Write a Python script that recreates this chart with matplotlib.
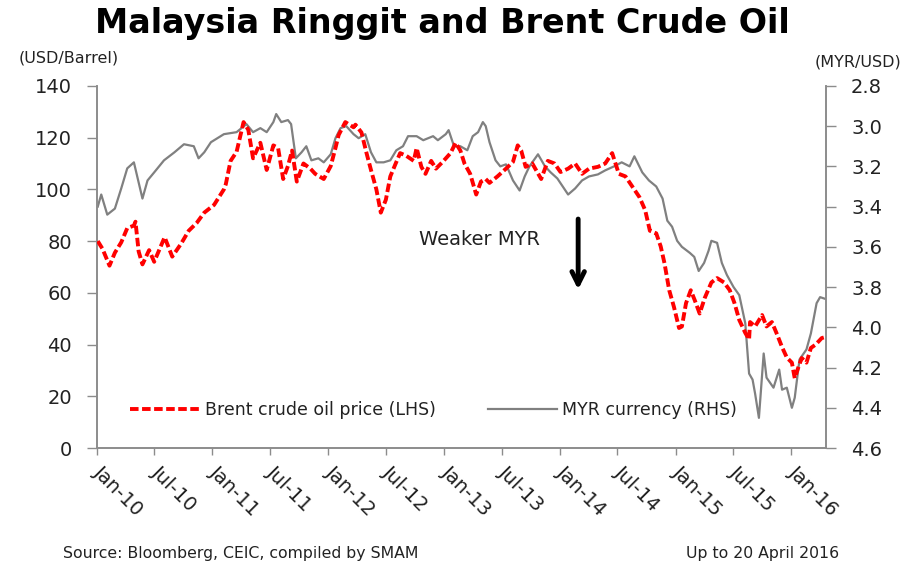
import pandas as pd
import matplotlib
matplotlib.use('Agg')
import matplotlib.pyplot as plt
import matplotlib.dates as mdates
from matplotlib.lines import Line2D

# Brent crude oil price, USD/barrel
brent_dates = [
    '2010-01-04', '2010-01-19', '2010-02-10', '2010-02-27', '2010-03-19', '2010-04-07',
    '2010-04-28', '2010-05-03', '2010-05-13', '2010-05-25', '2010-06-15', '2010-07-01',
    '2010-08-03', '2010-08-27', '2010-09-24', '2010-10-18', '2010-11-12', '2010-12-06',
    '2011-01-06', '2011-02-06', '2011-02-12', '2011-02-27', '2011-03-18', '2011-04-09',
    '2011-04-24', '2011-05-09', '2011-06-01', '2011-06-21', '2011-07-12', '2011-07-27',
    '2011-08-12', '2011-08-27', '2011-09-09', '2011-09-24', '2011-10-15', '2011-11-06',
    '2011-11-21', '2011-12-18', '2012-01-09', '2012-01-24', '2012-02-03', '2012-02-24',
    '2012-03-21', '2012-03-27', '2012-04-15', '2012-05-01', '2012-05-15', '2012-06-01',
    '2012-06-15', '2012-07-01', '2012-07-15', '2012-08-01', '2012-08-15', '2012-09-03',
    '2012-09-27', '2012-10-06', '2012-10-21', '2012-11-03', '2012-11-21', '2012-12-06',
    '2012-12-27', '2013-01-21', '2013-02-06', '2013-02-21', '2013-03-06', '2013-03-24',
    '2013-04-12', '2013-04-27', '2013-05-12', '2013-05-24', '2013-06-18', '2013-07-15',
    '2013-08-06', '2013-08-21', '2013-09-01', '2013-09-15', '2013-10-06', '2013-11-03',
    '2013-11-24', '2013-12-15', '2014-01-03', '2014-01-27', '2014-02-18', '2014-03-12',
    '2014-04-03', '2014-05-01', '2014-05-24', '2014-06-15', '2014-07-06', '2014-07-27',
    '2014-08-18', '2014-09-09', '2014-09-27', '2014-10-12', '2014-11-01', '2014-11-15',
    '2014-11-27', '2014-12-12', '2014-12-27', '2015-01-12', '2015-01-21', '2015-02-03',
    '2015-02-18', '2015-03-03', '2015-03-18', '2015-04-03', '2015-04-24', '2015-05-12',
    '2015-06-03', '2015-06-21', '2015-07-06', '2015-07-21', '2015-08-09', '2015-08-21',
    '2015-08-24', '2015-09-09', '2015-10-01', '2015-10-15', '2015-11-01', '2015-11-18',
    '2015-12-03', '2015-12-18', '2016-01-03', '2016-01-12', '2016-01-24', '2016-02-03',
    '2016-02-18', '2016-03-03', '2016-03-18', '2016-04-06', '2016-04-20',
]
brent_price = [
    80, 77, 70.5, 75.5, 79.5, 85,
    86, 87.5, 76, 71, 76.5, 72,
    81.5, 74, 79, 84, 87, 91,
    94, 100, 102, 111, 114.5, 126,
    123, 112, 118, 107.5, 117, 116,
    104, 109, 115, 103, 110, 108,
    106, 104, 109, 116, 121, 126,
    124, 125, 122, 114, 107.5, 100,
    91, 96, 105, 110, 114, 113,
    111, 116, 108.7, 106, 111, 108,
    110.6, 114, 118, 115, 110, 106,
    98, 103, 104, 102.5, 105, 108,
    110.6, 117, 115, 108.7, 110, 104,
    111, 110, 106.7, 108, 110, 106,
    108, 108.7, 110, 114, 106, 105,
    101, 97, 92, 84, 83, 78,
    71.5, 61, 54.5, 46.4, 47, 56,
    61, 57, 52, 58, 64, 65.7,
    64, 61, 56, 49.5, 44.5, 42,
    48.7, 47, 51.4, 47, 48.7, 43.7,
    39, 35, 33, 27, 31.4, 34.8,
    33, 38.7, 40, 42.5, 43,
]

# MYR per USD (right axis, inverted)
myr_dates = [
    '2010-01-04', '2010-01-15', '2010-02-03', '2010-02-27', '2010-03-19', '2010-04-07',
    '2010-04-28', '2010-05-13', '2010-05-25', '2010-06-10', '2010-07-01', '2010-08-01',
    '2010-09-03', '2010-10-03', '2010-11-03', '2010-11-18', '2010-12-06', '2010-12-27',
    '2011-02-06', '2011-03-18', '2011-04-18', '2011-05-09', '2011-06-01', '2011-06-21',
    '2011-07-12', '2011-07-21', '2011-08-06', '2011-08-27', '2011-09-06', '2011-09-21',
    '2011-10-09', '2011-10-24', '2011-11-09', '2011-12-01', '2011-12-18', '2012-01-09',
    '2012-01-24', '2012-02-09', '2012-02-27', '2012-03-21', '2012-04-06', '2012-04-27',
    '2012-05-15', '2012-06-01', '2012-06-24', '2012-07-15', '2012-08-03', '2012-08-24',
    '2012-09-09', '2012-10-06', '2012-10-27', '2012-11-27', '2012-12-12', '2013-01-06',
    '2013-01-15', '2013-02-01', '2013-02-21', '2013-03-15', '2013-04-01', '2013-04-18',
    '2013-05-03', '2013-05-12', '2013-05-24', '2013-06-12', '2013-06-27', '2013-07-15',
    '2013-08-06', '2013-08-27', '2013-09-12', '2013-09-27', '2013-10-24', '2013-11-15',
    '2013-12-03', '2013-12-24', '2014-01-27', '2014-02-18', '2014-03-12', '2014-04-03',
    '2014-05-01', '2014-05-24', '2014-06-21', '2014-07-15', '2014-08-09', '2014-08-24',
    '2014-09-18', '2014-10-09', '2014-11-01', '2014-11-21', '2014-12-06', '2014-12-21',
    '2015-01-06', '2015-01-21', '2015-02-15', '2015-03-01', '2015-03-15', '2015-04-01',
    '2015-04-15', '2015-04-24', '2015-05-12', '2015-05-27', '2015-06-12', '2015-07-03',
    '2015-07-21', '2015-08-09', '2015-08-21', '2015-09-01', '2015-09-09', '2015-09-21',
    '2015-10-06', '2015-10-15', '2015-11-06', '2015-11-24', '2015-12-03', '2015-12-18',
    '2016-01-03', '2016-01-12', '2016-01-27', '2016-02-18', '2016-03-03', '2016-03-21',
    '2016-04-01', '2016-04-20',
]
myr_rate = [
    3.40, 3.34, 3.44, 3.41, 3.31, 3.21,
    3.18, 3.28, 3.36, 3.27, 3.23, 3.17,
    3.13, 3.09, 3.10, 3.16, 3.13, 3.08,
    3.04, 3.03, 2.99, 3.03, 3.01, 3.03,
    2.98, 2.94, 2.98, 2.97, 2.99, 3.16,
    3.13, 3.10, 3.17, 3.16, 3.18, 3.14,
    3.06, 3.01, 3.00, 3.04, 3.06, 3.04,
    3.13, 3.18, 3.18, 3.17, 3.12, 3.10,
    3.05, 3.05, 3.07, 3.05, 3.07, 3.04,
    3.02, 3.10, 3.10, 3.12, 3.05, 3.03,
    2.98, 3.00, 3.08, 3.17, 3.20, 3.19,
    3.27, 3.32, 3.25, 3.20, 3.14, 3.20,
    3.23, 3.26, 3.34, 3.31, 3.27, 3.25,
    3.24, 3.22, 3.20, 3.18, 3.20, 3.15,
    3.23, 3.27, 3.30, 3.36, 3.47, 3.50,
    3.57, 3.60, 3.63, 3.65, 3.72, 3.68,
    3.62, 3.57, 3.58, 3.68, 3.74, 3.80,
    3.84, 3.98, 4.23, 4.26, 4.33, 4.45,
    4.13, 4.25, 4.30, 4.21, 4.31, 4.30,
    4.40, 4.35, 4.16, 4.11, 4.03, 3.88,
    3.85, 3.86,
]

brent = pd.Series(brent_price, index=pd.to_datetime(brent_dates))
myr = pd.Series(myr_rate, index=pd.to_datetime(myr_dates))

axis_grey = '#8c8c8c'
text_col = '#222222'

fig = plt.figure(figsize=(9.22, 5.65), dpi=100)
ax = fig.add_axes([0.105, 0.207, 0.791, 0.641])
ax2 = ax.twinx()

# Brent on left axis
ax.plot(brent.index, brent.values, color='#ff0000', lw=2.8,
        linestyle=(0, (2.2, 0.9)), zorder=3)
# MYR on right axis (inverted)
ax2.plot(myr.index, myr.values, color='#808080', lw=1.6, zorder=2)
ax.set_zorder(ax2.get_zorder() + 1)
ax.patch.set_visible(False)

ax.set_xlim(pd.Timestamp('2010-01-01'), pd.Timestamp('2016-04-20'))
ax.set_ylim(0, 140)
ax.set_yticks(range(0, 141, 20))
ax2.set_ylim(4.6, 2.8)
ax2.set_yticks([2.8, 3.0, 3.2, 3.4, 3.6, 3.8, 4.0, 4.2, 4.4, 4.6])
ax2.set_yticklabels(['2.8', '3.0', '3.2', '3.4', '3.6', '3.8', '4.0', '4.2', '4.4', '4.6'])

ax.xaxis.set_major_locator(mdates.MonthLocator(bymonth=[1, 7]))
ax.xaxis.set_major_formatter(mdates.DateFormatter('%b-%y'))

for a in (ax, ax2):
    a.spines['top'].set_visible(False)
    for s in ('left', 'right', 'bottom'):
        a.spines[s].set_color(axis_grey)
        a.spines[s].set_linewidth(1.2)

ax.tick_params(axis='y', direction='out', length=7, width=1, color=axis_grey,
               labelsize=14, labelcolor=text_col, pad=11)
ax2.tick_params(axis='y', direction='out', length=7, width=1, color=axis_grey,
                labelsize=14, labelcolor=text_col, pad=11)
ax.tick_params(axis='x', direction='out', length=5, width=1, color=axis_grey,
               labelsize=14, labelcolor=text_col, pad=10)
plt.setp(ax.get_xticklabels(), rotation=-45, ha='left', va='center',
         rotation_mode='anchor')

# Title and axis units
fig.text(0.48, 0.958, 'Malaysia Ringgit and Brent Crude Oil', ha='center', va='center',
         fontsize=24, fontweight='bold', color='black')
fig.text(0.02, 0.898, '(USD/Barrel)', ha='left', va='center', fontsize=11.5, color=text_col)
fig.text(0.884, 0.89, '(MYR/USD)', ha='left', va='center', fontsize=11.5, color=text_col)

# Annotation
ax.text(0.525, 0.575, 'Weaker MYR', transform=ax.transAxes, ha='center', va='center',
        fontsize=14, color=text_col)
ax.annotate('', xy=(0.66, 0.43), xytext=(0.66, 0.64), xycoords='axes fraction',
            arrowprops=dict(arrowstyle='->,head_length=0.9,head_width=0.45',
                            color='black', lw=3.5))

# Legend
handles = [
    Line2D([], [], color='#ff0000', lw=2.8, linestyle=(0, (2.2, 0.9))),
    Line2D([], [], color='#808080', lw=1.6),
]
ax.legend(handles, ['Brent crude oil price (LHS)', 'MYR currency (RHS)'],
          loc='center left', bbox_to_anchor=(0.024, 0.105), ncol=2, frameon=False,
          fontsize=12.5, handlelength=4, handletextpad=0.3, columnspacing=3.0,
          labelcolor=text_col)

# Footer
fig.text(0.068, 0.02, 'Source: Bloomberg, CEIC, compiled by SMAM', ha='left', va='center',
         fontsize=11.3, color=text_col)
fig.text(0.91, 0.02, 'Up to 20 April 2016', ha='right', va='center',
         fontsize=11.3, color=text_col)

fig.savefig('out.png', dpi=100)
